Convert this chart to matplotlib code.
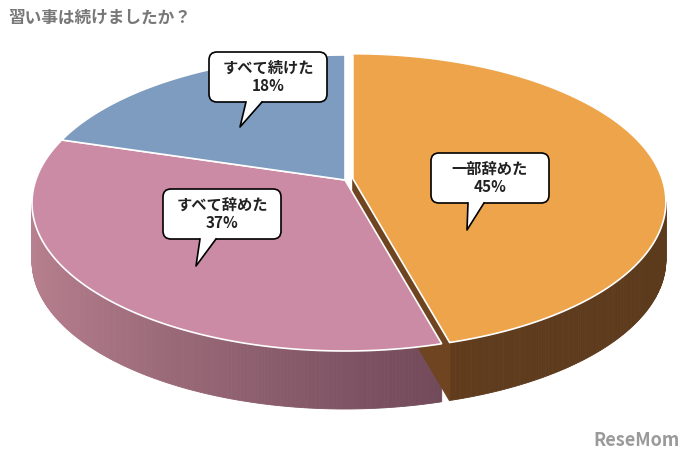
import numpy as np
import matplotlib
matplotlib.use("Agg")
import matplotlib.pyplot as plt
from matplotlib.patches import Polygon, FancyBboxPatch
import matplotlib.colors as mc

plt.rcParams['font.family'] = ['Noto Sans CJK JP', 'DejaVu Sans']

labels = ["一部辞めた", "すべて辞めた", "すべて続けた"]
values = [45, 37, 18]
top_colors = ["#eda44a", "#cc8ba4", "#7d9cc0"]
side_left = ["#6a4220", "#b8808f", "#5a7090"]
side_right = ["#5c3a1c", "#553444", "#4a5a78"]
explode = [8, 0, 0]

fig = plt.figure(figsize=(6.95, 4.63), dpi=100)
ax = fig.add_axes([0, 0, 1, 1])
ax.set_xlim(0, 695); ax.set_ylim(463, 0); ax.axis('off')

cx, cy, rx, ry, depth = 345, 203, 313, 148, 58
apex_dy = -23  # perspective: apparent centre sits higher than ellipse centre

def pt(t, ox, oy, d=0):
    return (cx + ox + rx*np.cos(t), cy + oy - ry*np.sin(t) + d)

start = np.pi/2
slices = []
for i, v in enumerate(values):
    a0 = start; a1 = start - v/100*2*np.pi
    mid = (a0+a1)/2
    ox = explode[i]*np.cos(mid); oy = -explode[i]*np.sin(mid)
    slices.append((a0, a1, ox, oy))
    start = a1

for i, (a0, a1, ox, oy) in enumerate(slices):
    ts = np.linspace(a0, a1, 300)
    c0 = np.array(mc.to_rgb(side_left[i])); c1 = np.array(mc.to_rgb(side_right[i]))
    for k in range(len(ts)-1):
        t0, t1 = ts[k], ts[k+1]
        if np.sin((t0+t1)/2) > 0:
            continue
        f = ((np.cos((t0+t1)/2)+1)/2)**0.8
        col = c0*(1-f)+c1*f
        p = [pt(t0, ox, oy), pt(t1, ox, oy), pt(t1, ox, oy, depth), pt(t0, ox, oy, depth)]
        ax.add_patch(Polygon(p, closed=True, fc=col, ec=col, lw=0.6, zorder=1))

a0, a1, ox, oy = slices[0]
c = (cx+ox, cy+oy+apex_dy)
r = pt(a1, ox, oy)
ax.add_patch(Polygon([c, r, (r[0], r[1]+depth), (c[0], c[1]+depth)], fc="#6e4520", ec="#6e4520", zorder=2))

for i, (a0, a1, ox, oy) in enumerate(slices):
    ts = np.linspace(a0, a1, 200)
    p = [(cx+ox, cy+oy+apex_dy)] + [pt(t, ox, oy) for t in ts]
    ax.add_patch(Polygon(p, closed=True, fc=top_colors[i], ec="white", lw=1.2, zorder=3))

callouts = [(490, 178, 467, 230), (222, 214, 196, 266), (268, 77, 240, 127)]
for i, (x, y, tx, ty) in enumerate(callouts):
    w, h = 118, 50
    ax.add_patch(FancyBboxPatch((x-w/2, y-h/2), w, h, boxstyle="round,pad=0,rounding_size=8",
                                fc="white", ec="black", lw=1.2, zorder=5))
    bx0 = x - 22 if tx < x else x + 4
    ax.add_patch(Polygon([(bx0, y+h/2-1), (bx0+16, y+h/2-1), (tx, ty)], fc="white", ec="none", zorder=6))
    ax.plot([bx0, tx, bx0+16], [y+h/2, ty, y+h/2], color="black", lw=1.2, zorder=6)
    ax.text(x, y, f"{labels[i]}\n{values[i]}%", ha="center", va="center", fontsize=11,
            fontweight="bold", color="#222222", zorder=7, linespacing=1.2)

ax.text(8, 18, "習い事は続けましたか？", fontsize=12, fontweight="bold", color="#777777", va="center")
ax.text(680, 440, "ReseMom", fontsize=13, fontweight="bold", color="#9a9a9a", ha="right", va="center")

fig.savefig("out.png", dpi=100)
